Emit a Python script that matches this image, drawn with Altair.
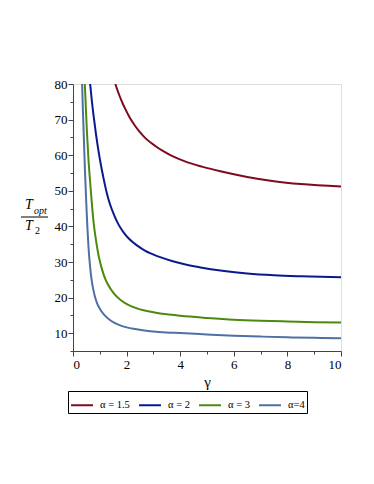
import altair as alt
import pandas as pd

# ---- data ----
gamma_a15 = [1.58, 1.70, 1.85, 1.95, 2.1, 2.3, 2.45, 2.7, 3.07, 3.4, 3.69, 4.2, 4.81, 5.5, 6.5, 7.5, 8.5, 10.0]
vals_a15 = [80.0, 77.4, 74.6, 73.0, 70.8, 68.4, 66.9, 64.8, 62.6, 61.0, 59.8, 58.2, 56.8, 55.5, 53.9, 52.7, 51.9, 51.2]

gamma_a2 = [0.64, 0.70, 0.77, 0.86, 0.96, 1.05, 1.14, 1.26, 1.39, 1.55, 1.70, 1.9, 2.08, 2.4, 2.7, 3.2, 3.69, 4.2, 4.81, 5.5, 6.5, 7.5, 8.5, 10.0]
vals_a2 = [80.0, 75.5, 71.0, 65.8, 60.8, 56.9, 53.5, 49.4, 46.0, 42.9, 40.5, 38.2, 36.6, 34.6, 33.1, 31.5, 30.3, 29.3, 28.4, 27.6, 26.8, 26.3, 26.0, 25.7]

gamma_a3 = [0.44, 0.52, 0.58, 0.65, 0.77, 0.87, 0.96, 1.08, 1.21, 1.4, 1.58, 1.8, 2.08, 2.5, 3.0, 3.5, 4.0, 5.0, 6.0, 7.0, 8.0, 9.0, 10.0]
vals_a3 = [80.0, 66.5, 58.5, 51.5, 41.0, 35.5, 31.6, 28.0, 25.1, 22.5, 20.7, 19.2, 17.9, 16.7, 15.9, 15.3, 14.9, 14.3, 13.8, 13.5, 13.3, 13.1, 13.0]

gamma_a4 = [0.34, 0.37, 0.40, 0.445, 0.49, 0.535, 0.58, 0.64, 0.71, 0.80, 0.90, 1.0, 1.15, 1.33, 1.55, 1.83, 2.2, 2.6, 3.0, 3.5, 4.0, 5.0, 6.0, 7.0, 8.0, 9.0, 10.0]
vals_a4 = [80.0, 72.5, 66.0, 56.0, 47.5, 40.0, 34.0, 28.5, 24.2, 20.8, 18.4, 16.9, 15.3, 14.0, 12.9, 12.0, 11.3, 10.8, 10.45, 10.2, 10.05, 9.65, 9.3, 9.05, 8.85, 8.7, 8.6]

series_names = ["α = 1.5", "α = 2", "α = 3", "α=4"]
series_colors = ["#7D0A1E", "#0B1A8A", "#4C8A0C", "#4F70A6"]

x_ticks = list(range(0, 11))
y_ticks = list(range(5, 81, 5))

rows = []
for name, gs, vs in zip(series_names,
                        [gamma_a15, gamma_a2, gamma_a3, gamma_a4],
                        [vals_a15, vals_a2, vals_a3, vals_a4]):
    for g, v in zip(gs, vs):
        rows.append({"series": name, "gamma": g, "value": v})
df = pd.DataFrame(rows)

FONT = "Liberation Serif, Times New Roman, serif"

lines = alt.Chart(df).mark_line(
    interpolate="monotone", strokeWidth=2, clip=True
).encode(
    x=alt.X("gamma:Q",
            scale=alt.Scale(domain=[0, 10], nice=False, zero=False),
            axis=alt.Axis(
                title="γ", values=x_ticks,
                labelExpr="datum.value % 2 === 0 ? datum.label : ''",
                tickSize={"condition": {"test": "datum.value % 2 === 0", "value": 5}, "value": 3},
                grid=False, labelFont=FONT, labelFontSize=13, labelColor="black",
                titleFont=FONT, titleFontSize=15, titleFontWeight="normal",
                titleColor="black", titlePadding=3, labelPadding=2,
                domainColor="#444", tickColor="#444",
            )),
    y=alt.Y("value:Q",
            scale=alt.Scale(domain=[5, 80], nice=False, zero=False),
            axis=alt.Axis(
                title=None, values=y_ticks,
                labelExpr="datum.value % 10 === 0 ? datum.label : ''",
                tickSize={"condition": {"test": "datum.value % 10 === 0", "value": 5}, "value": 3},
                grid=False, labelFont=FONT, labelFontSize=13, labelColor="black",
                labelPadding=1,
                domainColor="#444", tickColor="#444",
            )),
    color=alt.Color("series:N",
                    scale=alt.Scale(domain=series_names, range=series_colors),
                    sort=series_names,
                    legend=alt.Legend(
                        title=None, orient="none", direction="horizontal",
                        legendX=-5, legendY=307, columns=4,
                        symbolType="stroke", symbolSize=480, symbolStrokeWidth=2,
                        labelFont=FONT, labelFontSize=10.5, labelColor="black",
                        labelOffset=6, columnPadding=5, padding=2,
                        strokeColor="black", symbolOffset=0,
                    )),
    detail="series:N",
)

def txt(s, x, y, size, italic=False, align="center"):
    return alt.Chart(pd.DataFrame({"t": [s]})).mark_text(
        font=FONT, fontSize=size, fontStyle="italic" if italic else "normal",
        align=align, baseline="alphabetic", color="black"
    ).encode(x=alt.value(x), y=alt.value(y), text="t:N")

num_T = txt("T", -44, 125, 14, italic=True)
num_sub = txt("opt", -39, 130, 10, italic=True, align="left")
den_T = txt("T", -44, 146, 14, italic=True)
den_sub = txt("2", -38, 150, 10, align="left")
bar = alt.Chart(pd.DataFrame({"a": [0]})).mark_rule(color="black", strokeWidth=1).encode(
    x=alt.value(-52), x2=alt.value(-25), y=alt.value(133))

chart = alt.layer(lines, num_T, num_sub, den_T, den_sub, bar).properties(
    width=268, height=267,
    autosize=alt.AutoSizeParams(type="none"),
    padding={"left": 65, "top": 76, "right": 25, "bottom": 90},
).configure_view(stroke=None).configure(background="white")

chart.save("out.html", embed_options={"renderer": "svg", "actions": False})
